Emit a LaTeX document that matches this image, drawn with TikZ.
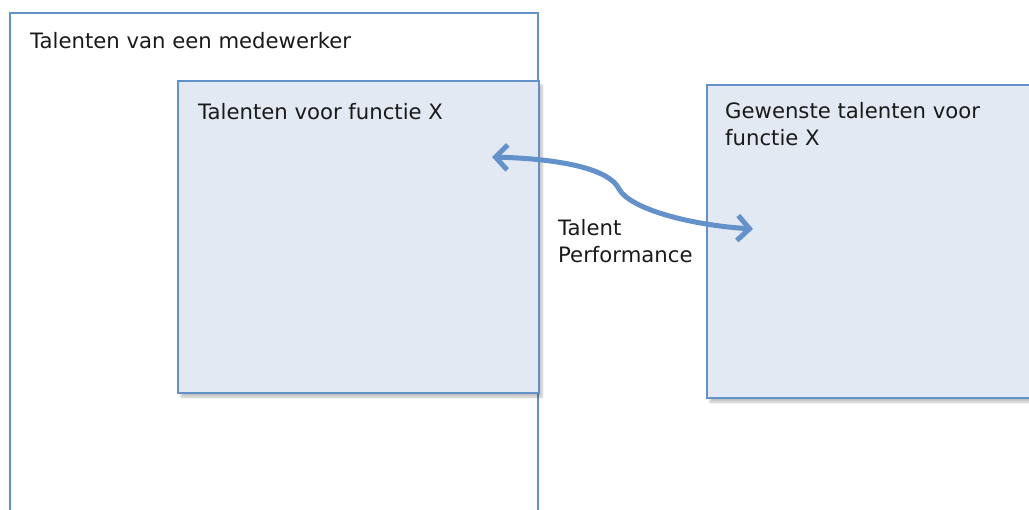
\documentclass[tikz,border=0pt]{standalone}
\usepackage{fontspec}
\setmainfont{DejaVu Sans}
\usetikzlibrary{arrows.meta,shadows.blur}
\definecolor{rand}{RGB}{98,145,203}
\definecolor{vul}{RGB}{226,233,242}
\definecolor{tekst}{RGB}{26,26,26}
\begin{document}
\begin{tikzpicture}[x=1pt,y=-1pt,
	vak/.style={draw=rand,line width=2pt,fill=vul,rectangle,inner sep=0pt,anchor=north west,
		blur shadow={shadow xshift=3pt,shadow yshift=-4pt,shadow blur steps=6,shadow opacity=25}},
	lbl/.style={anchor=base west,inner sep=0pt,text=tekst,font=\fontsize{21.2}{27}\selectfont,align=left},
	pijl/.style={draw=rand,line width=5pt,{Straight Barb[length=12pt,width=25pt]}-{Straight Barb[length=12pt,width=25pt]}}]
				\clip (0,0) rectangle (1029,510);
				\coordinate (OL) at (10,520);
				\coordinate (OR) at (538,520);
				\draw[rand,line width=2pt] (OL) -- (10,13) -- (538,13) -- (OR);
				\node[lbl] (medewerker) at (30,49) {Talenten van een medewerker};
				\node[vak,minimum width=361pt,minimum height=312pt] (functie) at (177,80) {};
				\node[vak,minimum width=340pt,minimum height=313pt] (gewenst) at (706,84) {};
				\node[lbl] (functietxt) at (198,120) {Talenten voor functie X};
				\node[lbl] (gewensttxt) at (725,146) {Gewenste talenten voor\\functie X};
				\node[lbl] (perf) at (558,263) {Talent\\Performance};
				\coordinate (pL) at (492,157);
				\coordinate (knik) at (619,189);
				\coordinate (pR) at (753,229);
				\draw[pijl] (pL) .. controls (565,159) and (610,170) .. (knik) .. controls (630,209) and (690,225) .. (pR);
\end{tikzpicture}
\end{document}
